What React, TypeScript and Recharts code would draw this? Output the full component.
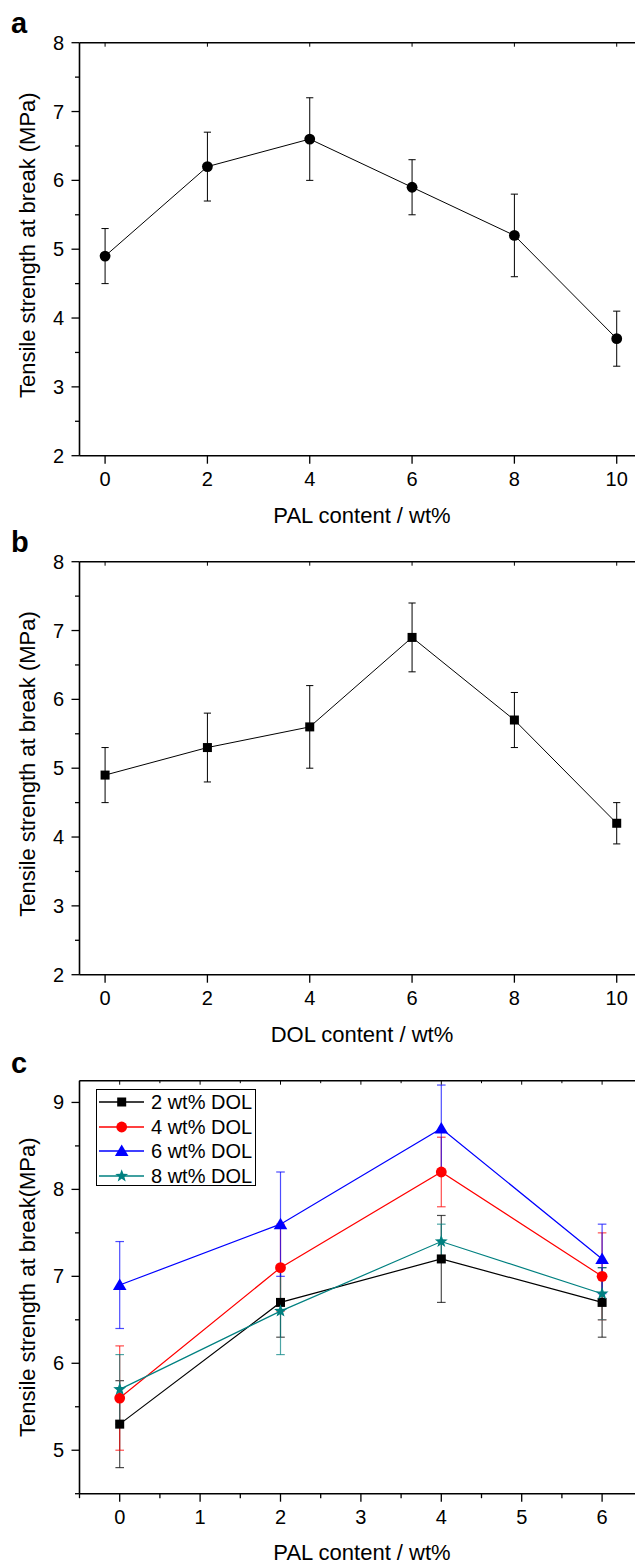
import React from 'react';
import { LineChart, Line, XAxis, YAxis, ErrorBar, Legend } from 'recharts';

const FONT = '"Liberation Sans", Arial, Helvetica, sans-serif';

// ---------- Panel a ----------
const palContentA = [0, 2, 4, 6, 8, 10];
const tensileA = [4.9, 6.2, 6.6, 5.9, 5.2, 3.7];
const errA = [0.4, 0.5, 0.6, 0.4, 0.6, 0.4];

// ---------- Panel b ----------
const dolContentB = [0, 2, 4, 6, 8, 10];
const tensileB = [4.9, 5.3, 5.6, 6.9, 5.7, 4.2];
const errB = [0.4, 0.5, 0.6, 0.5, 0.4, 0.3];

// ---------- Panel c ----------
const palContentC = [0, 2, 4, 6];
const dol2 = [5.3, 6.7, 7.2, 6.7];
const err2 = [0.5, 0.4, 0.5, 0.4];
const dol4 = [5.6, 7.1, 8.2, 7.0];
const err4 = [0.6, 0.5, 0.4, 0.5];
const dol6 = [6.9, 7.6, 8.7, 7.2];
const err6 = [0.5, 0.6, 0.5, 0.4];
const dol8 = [5.7, 6.6, 7.4, 6.8];
const err8 = [0.4, 0.5, 0.2, 0.3];

// ---------- Ticks ----------
const xTicksAB = [0, 2, 4, 6, 8, 10];
const xMajorsAB = [0, 2, 4, 6, 8, 10];
const yTicksAB = [2, 2.5, 3, 3.5, 4, 4.5, 5, 5.5, 6, 6.5, 7, 7.5, 8];
const yMajorsAB = [2, 3, 4, 5, 6, 7, 8];
const xTicksC = [-0.5, 0, 0.5, 1, 1.5, 2, 2.5, 3, 3.5, 4, 4.5, 5, 5.5, 6];
const xMajorsC = [0, 1, 2, 3, 4, 5, 6];
const yTicksC = [4.5, 5, 5.5, 6, 6.5, 7, 7.5, 8, 8.5, 9];
const yMajorsC = [5, 6, 7, 8, 9];

const dataA = palContentA.map((x, i) => ({ x, y: tensileA[i], e: errA[i] }));
const dataB = dolContentB.map((x, i) => ({ x, y: tensileB[i], e: errB[i] }));
const dataC = palContentC.map((x, i) => ({
  x,
  s2: dol2[i], e2: err2[i],
  s4: dol4[i], e4: err4[i],
  s6: dol6[i], e6: err6[i],
  s8: dol8[i], e8: err8[i],
}));

const seriesC = [
  { key: 's2', err: 'e2', name: '2 wt% DOL', color: '#000000', shape: 'square' },
  { key: 's4', err: 'e4', name: '4 wt% DOL', color: '#FF0000', shape: 'circle' },
  { key: 's6', err: 'e6', name: '6 wt% DOL', color: '#0000FF', shape: 'triangle' },
  { key: 's8', err: 'e8', name: '8 wt% DOL', color: '#008080', shape: 'star' },
];
const drawOrderC = ['s2', 's4', 's8', 's6'];

// ---------- Geometry ----------
const W = 660;
const H = 545;
const PLOT_LEFT = 79.5;
const PLOT_TOP = 42.7;
const PLOT_W = 562.8;
const PLOT_H = 413;
const PLOT_BOTTOM = PLOT_TOP + PLOT_H;
const TOP_AXIS_H = 20;
const Y_AXIS_W = 60;
const X_AXIS_H = 40;
const MARGIN = {
  top: PLOT_TOP - TOP_AXIS_H,
  left: PLOT_LEFT - Y_AXIS_W,
  right: W - PLOT_LEFT - PLOT_W,
  bottom: H - PLOT_BOTTOM - X_AXIS_H,
};
const AXIS_W = 1.6;

const isIn = (arr: number[], v: number) => arr.some((m) => Math.abs(m - v) < 1e-6);

const makeXTick = (majors: number[]) => (props: any) => {
  const { x, payload } = props;
  const v = payload.value;
  const major = isIn(majors, v);
  return (
    <g>
      <line x1={x} x2={x} y1={PLOT_BOTTOM} y2={PLOT_BOTTOM + (major ? 8 : 4.5)} stroke="#000" strokeWidth={1.3} />
      {major && (
        <text x={x} y={PLOT_BOTTOM + 30} textAnchor="middle" fontSize={20} fontFamily={FONT} fill="#000">
          {v}
        </text>
      )}
    </g>
  );
};

const makeTopTick = (majors: number[]) => (props: any) => {
  const { x, payload } = props;
  const major = isIn(majors, payload.value);
  return <line x1={x} x2={x} y1={PLOT_TOP} y2={PLOT_TOP + (major ? 4 : 2.5)} stroke="#000" strokeWidth={1} />;
};

const makeYTick = (majors: number[]) => (props: any) => {
  const { y, payload } = props;
  const v = payload.value;
  const major = isIn(majors, v);
  return (
    <g>
      <line x1={PLOT_LEFT - (major ? 8 : 4.5)} x2={PLOT_LEFT} y1={y} y2={y} stroke="#000" strokeWidth={1.3} />
      {major && (
        <text x={PLOT_LEFT - 15.5} y={y + 7} textAnchor="end" fontSize={20} fontFamily={FONT} fill="#000">
          {v}
        </text>
      )}
    </g>
  );
};

const marker = (shape: string, cx: number, cy: number, color: string, k?: any) => {
  if (shape === 'square') {
    return <rect key={k} x={cx - 4.5} y={cy - 4.5} width={9} height={9} fill={color} />;
  }
  if (shape === 'circle') {
    return <circle key={k} cx={cx} cy={cy} r={5.4} fill={color} />;
  }
  if (shape === 'triangle') {
    return (
      <polygon
        key={k}
        points={`${cx},${cy - 6.5} ${cx - 6.8},${cy + 5} ${cx + 6.8},${cy + 5}`}
        fill={color}
      />
    );
  }
  // star
  const pts: string[] = [];
  for (let i = 0; i < 10; i++) {
    const r = i % 2 === 0 ? 6.8 : 2.8;
    const a = -Math.PI / 2 + (i * Math.PI) / 5;
    pts.push(`${cx + r * Math.cos(a)},${cy + r * Math.sin(a)}`);
  }
  return <polygon key={k} points={pts.join(' ')} fill={color} />;
};

const makeDot = (shape: string, color: string) => (p: any) => {
  if (p.cx == null || p.cy == null) return <g key={p.index} />;
  return marker(shape, p.cx, p.cy, color, p.key ?? p.index);
};

const legendContent = () => (
  <div
    style={{
      width: 160,
      height: 97,
      border: '1.3px solid #000',
      boxSizing: 'border-box',
      background: '#fff',
      fontFamily: FONT,
    }}
  >
    {seriesC.map((s) => (
      <div key={s.key} style={{ display: 'flex', alignItems: 'center', height: 24.4 }}>
        <svg width={52} height={24} style={{ display: 'block', flex: 'none' }}>
          <line x1={2} x2={47} y1={12} y2={12} stroke={s.color} strokeWidth={1.3} />
          {marker(s.shape, 24.7, 12, s.color)}
        </svg>
        <span style={{ fontSize: 20, lineHeight: '24px', color: '#000', marginLeft: 2, whiteSpace: 'nowrap' }}>
          {s.name}
        </span>
      </div>
    ))}
  </div>
);

type SingleProps = {
  data: any[];
  dotShape: string;
};

const SinglePanel = ({ data, dotShape }: SingleProps) => (
  <LineChart width={W} height={H} data={data} margin={MARGIN}>
    <XAxis
      xAxisId="top"
      orientation="top"
      type="number"
      dataKey="x"
      domain={[-0.5, 10.5]}
      ticks={xTicksAB}
      interval={0}
      height={TOP_AXIS_H}
      tickLine={false}
      axisLine={{ stroke: '#000', strokeWidth: AXIS_W }}
      tick={makeTopTick(xMajorsAB)}
      allowDataOverflow
    />
    <XAxis
      type="number"
      dataKey="x"
      domain={[-0.5, 10.5]}
      ticks={xTicksAB}
      interval={0}
      height={X_AXIS_H}
      tickLine={false}
      axisLine={{ stroke: '#000', strokeWidth: AXIS_W }}
      tick={makeXTick(xMajorsAB)}
      allowDataOverflow
    />
    <YAxis
      type="number"
      domain={[2, 8]}
      ticks={yTicksAB}
      interval={0}
      width={Y_AXIS_W}
      tickLine={false}
      axisLine={{ stroke: '#000', strokeWidth: AXIS_W }}
      tick={makeYTick(yMajorsAB)}
      allowDataOverflow
    />
    <Line
      type="linear"
      dataKey="y"
      stroke="#000"
      strokeWidth={1}
      dot={makeDot(dotShape, '#000')}
      activeDot={false}
      isAnimationActive={false}
    >
      <ErrorBar dataKey="e" width={3.6} stroke="#000" strokeWidth={1} direction="y" isAnimationActive={false} />
    </Line>
  </LineChart>
);

const PanelC = () => (
  <LineChart width={W} height={H} data={dataC} margin={MARGIN}>
    <XAxis
      xAxisId="top"
      orientation="top"
      type="number"
      dataKey="x"
      domain={[-0.5, 6.5]}
      ticks={xTicksC}
      interval={0}
      height={TOP_AXIS_H}
      tickLine={false}
      axisLine={{ stroke: '#000', strokeWidth: AXIS_W }}
      tick={makeTopTick(xMajorsC)}
      allowDataOverflow
    />
    <XAxis
      type="number"
      dataKey="x"
      domain={[-0.5, 6.5]}
      ticks={xTicksC}
      interval={0}
      height={X_AXIS_H}
      tickLine={false}
      axisLine={{ stroke: '#000', strokeWidth: AXIS_W }}
      tick={makeXTick(xMajorsC)}
      allowDataOverflow
    />
    <YAxis
      type="number"
      domain={[4.5, 9.25]}
      ticks={yTicksC}
      interval={0}
      width={Y_AXIS_W}
      tickLine={false}
      axisLine={{ stroke: '#000', strokeWidth: AXIS_W }}
      tick={makeYTick(yMajorsC)}
      allowDataOverflow
    />
    {drawOrderC.map((k) => {
      const s = seriesC.find((q) => q.key === k)!;
      return (
        <Line
          key={s.key}
          type="linear"
          dataKey={s.key}
          name={s.name}
          stroke={s.color}
          strokeWidth={1.2}
          dot={makeDot(s.shape, s.color)}
          activeDot={false}
          isAnimationActive={false}
        >
          <ErrorBar
            dataKey={s.err}
            width={4.3}
            stroke={s.color}
            strokeOpacity={0.7}
            strokeWidth={1.2}
            direction="y"
            isAnimationActive={false}
          />
        </Line>
      );
    })}
    <Legend
      layout="horizontal"
      verticalAlign="middle"
      align="center"
      width={160}
      height={97}
      content={legendContent}
      wrapperStyle={{ left: 96, top: 51.3, width: 160, height: 97 }}
    />
  </LineChart>
);

const OFFSETS = [0, 518.8, 1038];

const Titles = () => {
  const ys = [
    { letter: 'a', letterY: 33, ylab: 'Tensile strength at break (MPa)', xlab: 'PAL content / wt%' },
    { letter: 'b', letterY: 551.7, ylab: 'Tensile strength at break (MPa)', xlab: 'DOL content / wt%' },
    { letter: 'c', letterY: 1073, ylab: 'Tensile strength at break(MPa)', xlab: 'PAL content / wt%' },
  ];
  return (
    <svg
      width={635}
      height={1564}
      style={{ position: 'absolute', left: 0, top: 0, pointerEvents: 'none' }}
    >
      {ys.map((p, i) => {
        const off = OFFSETS[i];
        const cy = off + PLOT_TOP + PLOT_H / 2 - (i === 2 ? 0 : 4);
        const xBase = i === 2 ? 1560 : off + PLOT_BOTTOM + 67;
        return (
          <g key={p.letter} fontFamily={FONT} fill="#000">
            <text x={11} y={p.letterY} fontSize={29} fontWeight="bold">
              {p.letter}
            </text>
            <text
              x={35}
              y={cy}
              fontSize={22}
              textAnchor="middle"
              transform={`rotate(-90, 35, ${cy})`}
            >
              {p.ylab}
            </text>
            <text x={362} y={xBase} fontSize={22} textAnchor="middle">
              {p.xlab}
            </text>
          </g>
        );
      })}
    </svg>
  );
};

export default function App() {
  return (
    <div
      style={{
        position: 'absolute',
        left: 0,
        top: 0,
        width: 635,
        height: 1564,
        overflow: 'hidden',
        background: '#fff',
      }}
    >
      <div style={{ position: 'absolute', left: 0, top: OFFSETS[0] }}>
        <SinglePanel data={dataA} dotShape="circle" />
      </div>
      <div style={{ position: 'absolute', left: 0, top: OFFSETS[1] }}>
        <SinglePanel data={dataB} dotShape="square" />
      </div>
      <div style={{ position: 'absolute', left: 0, top: OFFSETS[2] }}>
        <PanelC />
      </div>
      <Titles />
    </div>
  );
}
